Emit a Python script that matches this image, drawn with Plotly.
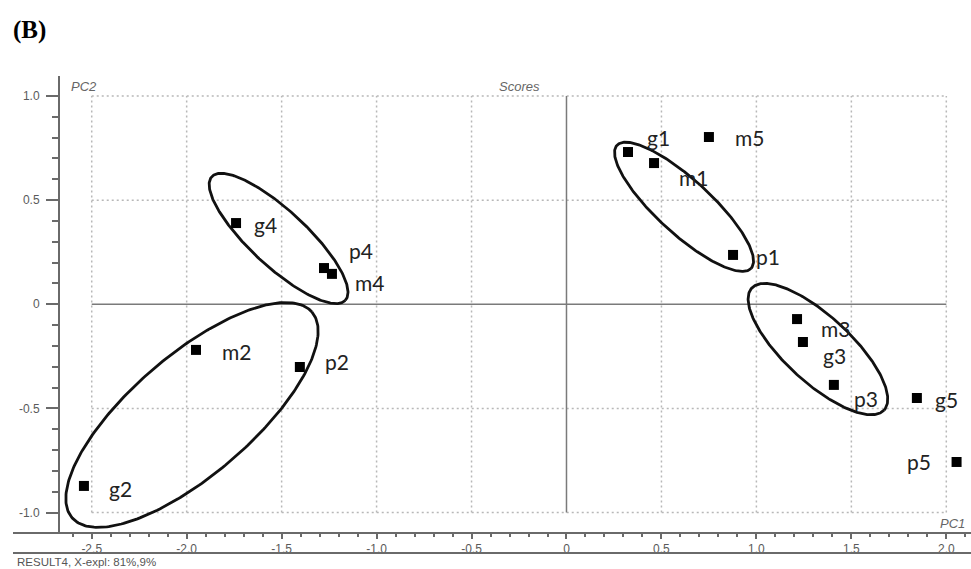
import numpy as np
import plotly.graph_objects as go

# PCA scores (PC1, PC2) per sample
samples = ["g1", "m1", "m5", "p1", "m3", "g3", "p3", "g5", "p5",
           "g4", "p4", "m4", "m2", "p2", "g2"]
pc1 = [0.324, 0.461, 0.750, 0.877, 1.214, 1.245, 1.408, 1.845, 2.054,
       -1.740, -1.277, -1.235, -1.951, -1.404, -2.541]
pc2 = [0.731, 0.678, 0.803, 0.237, -0.071, -0.181, -0.387, -0.450, -0.757,
       0.390, 0.174, 0.146, -0.219, -0.301, -0.872]

# label placement relative to each marker: (x shift px, y shift px, anchor)
label_offsets = {
    "g1": (17, 15, "left"), "m1": (23, -14, "left"), "m5": (24, 0, "left"),
    "p1": (21, -2, "left"), "m3": (22, -9, "left"), "g3": (18, -14, "left"),
    "p3": (18, -14, "left"), "g5": (16, -1, "left"), "p5": (-24, 0, "right"),
    "g4": (16, -1, "left"), "p4": (23, 18, "left"), "m4": (21, -9, "left"),
    "m2": (24, -2, "left"), "p2": (23, 5, "left"), "g2": (23, -3, "left"),
}

# group outlines: centre (PC1, PC2), semi-axes in px, screen angle in deg
groups = [
    dict(cx=0.619, cy=0.468, a=91, b=27, ang=42.5),
    dict(cx=1.324, cy=-0.215, a=90, b=33, ang=42.7),
    dict(cx=-1.516, cy=0.316, a=91, b=28, ang=42.8),
    dict(cx=-1.972, cy=-0.531, a=158, b=60, ang=-40.6),
]

x_ticks = [-2.5, -2.0, -1.5, -1.0, -0.5, 0, 0.5, 1.0, 1.5, 2.0]
x_ticktext = ["-2.5", "-2.0", "-1.5", "-1.0", "-0.5", "0", "0.5", "1.0", "1.5", "2.0"]
y_ticks = [-1.0, -0.5, 0, 0.5, 1.0]
y_ticktext = ["-1.0", "-0.5", "0", "0.5", "1.0"]

W, H = 971, 569
M_L, M_R, M_T, M_B = 60, 0, 76, 36
PW, PH = W - M_L - M_R, H - M_T - M_B
x_range = [-2.667, 2.130]
y_range = [-1.098, 1.096]
sx = PW / (x_range[1] - x_range[0])
sy = PH / (y_range[1] - y_range[0])

AXIS = "#6a6a6a"
GRID = "#b8b8b8"
TICKFONT = dict(family="Liberation Sans, Arial", size=12, color="#5a5a5a")


def px_to_paper(px, py):
    return (px - M_L) / PW, 1 - (py - M_T) / PH


fig = go.Figure()

# ellipses around sample groups
t = np.linspace(0, 2 * np.pi, 300)
for g in groups:
    th = np.radians(g["ang"])
    dx = g["a"] * np.cos(t) * np.cos(th) - g["b"] * np.sin(t) * np.sin(th)
    dy = g["a"] * np.cos(t) * np.sin(th) + g["b"] * np.sin(t) * np.cos(th)
    fig.add_trace(go.Scatter(
        x=g["cx"] + dx / sx, y=g["cy"] - dy / sy, mode="lines",
        line=dict(color="#111111", width=2.8), hoverinfo="skip",
        showlegend=False))

fig.add_trace(go.Scatter(
    x=pc1, y=pc2, mode="markers", text=samples,
    marker=dict(symbol="square", size=10, color="#000000"),
    showlegend=False))

shapes = []
# dotted grid limited to the tick span
for xv in x_ticks:
    if xv != 0:
        shapes.append(dict(type="line", xref="x", yref="y", x0=xv, x1=xv,
                           y0=min(y_ticks), y1=max(y_ticks),
                           line=dict(color=GRID, width=1.5, dash="2px,3px"),
                           layer="below"))
for yv in y_ticks:
    if yv != 0:
        shapes.append(dict(type="line", xref="x", yref="y",
                           x0=min(x_ticks), x1=max(x_ticks), y0=yv, y1=yv,
                           line=dict(color=GRID, width=1.5, dash="2px,3px"),
                           layer="below"))
# origin cross lines
shapes.append(dict(type="line", xref="x", yref="y", x0=min(x_ticks),
                   x1=max(x_ticks), y0=0, y1=0,
                   line=dict(color="#7a7a7a", width=1.5), layer="below"))
shapes.append(dict(type="line", xref="x", yref="y", x0=0, x1=0,
                   y0=min(y_ticks), y1=max(y_ticks),
                   line=dict(color="#7a7a7a", width=1.5), layer="below"))
# bottom axis line and footer rule, running across the frame
left_paper = (13 - M_L) / PW
shapes.append(dict(type="line", xref="paper", yref="paper", x0=left_paper,
                   x1=1.0, y0=0, y1=0, line=dict(color=AXIS, width=2)))
footer_y = px_to_paper(0, 553)[1]
shapes.append(dict(type="line", xref="paper", yref="paper", x0=left_paper,
                   x1=1.0, y0=footer_y, y1=footer_y,
                   line=dict(color=AXIS, width=2)))

annotations = []
for name, xv, yv in zip(samples, pc1, pc2):
    ox, oy, anc = label_offsets[name]
    annotations.append(dict(
        x=xv, y=yv, xref="x", yref="y", text=name, showarrow=False,
        xanchor=anc, yanchor="middle", xshift=ox, yshift=oy,
        font=dict(family="Lato, Open Sans", size=21, color="#222222")))

italic = dict(family="Liberation Sans, Arial", size=13, color="#666666")


def paper_note(text, px, py, font, xanchor="center"):
    xp, yp = px_to_paper(px, py)
    return dict(text=text, xref="paper", yref="paper", x=xp, y=yp,
                xanchor=xanchor, yanchor="middle", showarrow=False, font=font)


annotations += [
    paper_note("<i>PC2</i>", 84, 86, italic),
    paper_note("<i>Scores</i>", 519, 86, italic),
    paper_note("<i>PC1</i>", 952, 523, italic),
    paper_note("RESULT4, X-expl: 81%,9%", 15, 562,
               dict(family="Liberation Sans, Arial", size=11.5,
                    color="#555555"), xanchor="left"),
    paper_note("<b>(B)</b>", 11, 30,
               dict(family="Liberation Serif, Times New Roman", size=25,
                    color="#000000"), xanchor="left"),
]

fig.update_layout(
    width=W, height=H,
    margin=dict(l=M_L, r=M_R, t=M_T, b=M_B),
    paper_bgcolor="white", plot_bgcolor="white",
    shapes=shapes, annotations=annotations,
    xaxis=dict(range=x_range, tickvals=x_ticks, ticktext=x_ticktext,
               showgrid=False, zeroline=False, showline=False,
               ticks="outside", ticklen=5, tickwidth=1.5, tickcolor=AXIS,
               tickfont=TICKFONT,
               minor=dict(dtick=0.1, ticks="outside", ticklen=3,
                          tickcolor=AXIS, showgrid=False)),
    yaxis=dict(range=y_range, tickvals=y_ticks, ticktext=y_ticktext,
               showgrid=False, zeroline=False, showline=True,
               linecolor=AXIS, linewidth=2,
               ticks="outside", ticklen=12, tickwidth=1.5, tickcolor=AXIS,
               tickfont=TICKFONT, ticklabelstandoff=4,
               minor=dict(dtick=0.1, ticks="outside", ticklen=6,
                          tickcolor=AXIS, showgrid=False)),
)

fig.write_html("out.html")
